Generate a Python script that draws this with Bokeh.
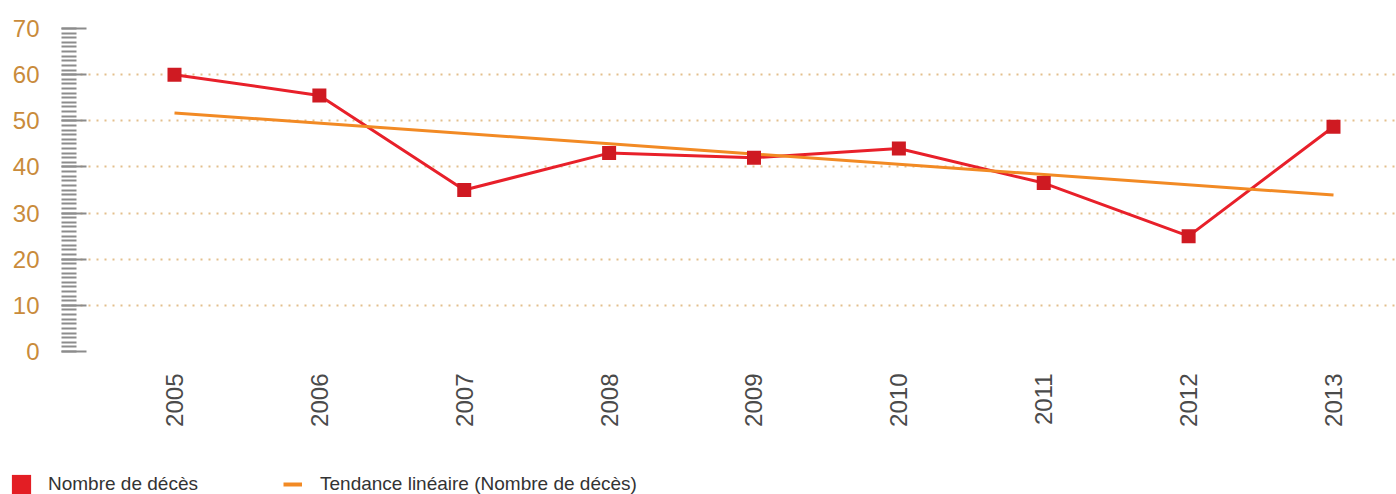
import math
from bokeh.plotting import figure
from bokeh.layouts import column
from bokeh.models import (ColumnDataSource, Legend, LegendItem, FixedTicker,
                          SingleIntervalTicker, Range1d)
from bokeh.embed import file_html
from bokeh.resources import INLINE

# ---- data ----
years = [2005, 2006, 2007, 2008, 2009, 2010, 2011, 2012, 2013]
deaths = [60, 55.5, 35, 43, 42, 44, 36.5, 25, 48.7]
trend_years = [2005, 2013]
trend_values = [51.7, 33.9]
series_label = "Nombre de décès"
trend_label = "Tendance linéaire (Nombre de décès)"

# ---- styles ----
RED_LINE = "#e8202a"
RED_MARK = "#cf1a22"
ORANGE = "#f28a24"
TAN = "#c98b3b"
GRID = "#e3bf8c"
TICK = "#8c8c8c"
FONT = "Liberation Sans"

src = ColumnDataSource(dict(year=years, deaths=deaths))
tsrc = ColumnDataSource(dict(year=trend_years, value=trend_values))

p = figure(width=1396, height=454, output_backend="svg", toolbar_location=None,
           x_range=Range1d(2004.3236, 2013.4349), y_range=Range1d(0, 70),
           min_border_left=76, min_border_right=0, min_border_top=28,
           min_border_bottom=103, frame_align=False)
p.outline_line_color = None
p.background_fill_color = "white"
p.border_fill_color = "white"

# y axis (ruler-like ticks)
ya = p.yaxis[0]
ya.ticker = SingleIntervalTicker(interval=10, num_minor_ticks=10)
ya.axis_line_color = None
ya.major_tick_in = 10
ya.major_tick_out = 15
ya.minor_tick_in = 0
ya.minor_tick_out = 15
ya.major_tick_line_color = TICK
ya.major_tick_line_width = 2
ya.minor_tick_line_color = TICK
ya.minor_tick_line_width = 2
ya.major_label_standoff = 22
ya.major_label_text_font = FONT
ya.major_label_text_font_size = "24px"
ya.major_label_text_color = TAN

# x axis
xa = p.xaxis[0]
xa.ticker = FixedTicker(ticks=years)
xa.axis_line_color = None
xa.major_tick_line_color = None
xa.minor_tick_line_color = None
xa.major_tick_in = 0
xa.major_tick_out = 0
xa.major_label_orientation = math.pi / 2
xa.major_label_standoff = 22
xa.major_label_text_font = FONT
xa.major_label_text_font_size = "24px"
xa.major_label_text_color = "#4a4a4a"

# grid
p.xgrid.grid_line_color = None
p.ygrid.grid_line_color = GRID
p.ygrid.grid_line_width = 2
p.ygrid.grid_line_dash = "2 6"
p.ygrid.grid_line_dash_offset = 4

# glyphs
p.line("year", "deaths", source=src, line_color=RED_LINE, line_width=3)
p.line("year", "value", source=tsrc, line_color=ORANGE, line_width=3)
p.scatter("year", "deaths", source=src, marker="square", size=14,
          fill_color=RED_MARK, line_color=None)

# ---- legend strip (separate small figure whose frame is the whole strip) ----
q = figure(width=1396, height=40, output_backend="svg", toolbar_location=None,
           x_range=Range1d(0, 1), y_range=Range1d(0, 1),
           x_axis_type=None, y_axis_type=None,
           min_border_left=0, min_border_right=0, min_border_top=0,
           min_border_bottom=0, frame_align=False)
q.outline_line_color = None
q.background_fill_color = "white"
q.border_fill_color = "white"

# hidden proxy renderers (same data, never drawn) used only for legend swatches
lsrc = ColumnDataSource(dict(year=years, deaths=deaths))
r_sq = q.rect("year", "deaths", source=lsrc, width=1, height=1,
              fill_color="#e31e24", line_color=None, visible=False)
r_tr = q.line("year", "deaths", source=lsrc, line_color=ORANGE, line_width=4,
              visible=False)

common = dict(padding=0, margin=0, border_line_color=None, background_fill_alpha=0,
              label_text_font=FONT, label_text_font_size="19px",
              label_text_color="#333333", label_height=24, glyph_height=24,
              inactive_fill_alpha=0)
leg1 = Legend(items=[LegendItem(label=series_label, renderers=[r_sq])],
              location=(9, -2), glyph_width=24, label_standoff=15, **common)
leg2 = Legend(items=[LegendItem(label=trend_label, renderers=[r_tr])],
              location=(283, -2), glyph_width=19, label_standoff=18, **common)
q.add_layout(leg1)
q.add_layout(leg2)

layout = column(p, q, spacing=0)
open("out.html", "w").write(file_html(layout, INLINE))
